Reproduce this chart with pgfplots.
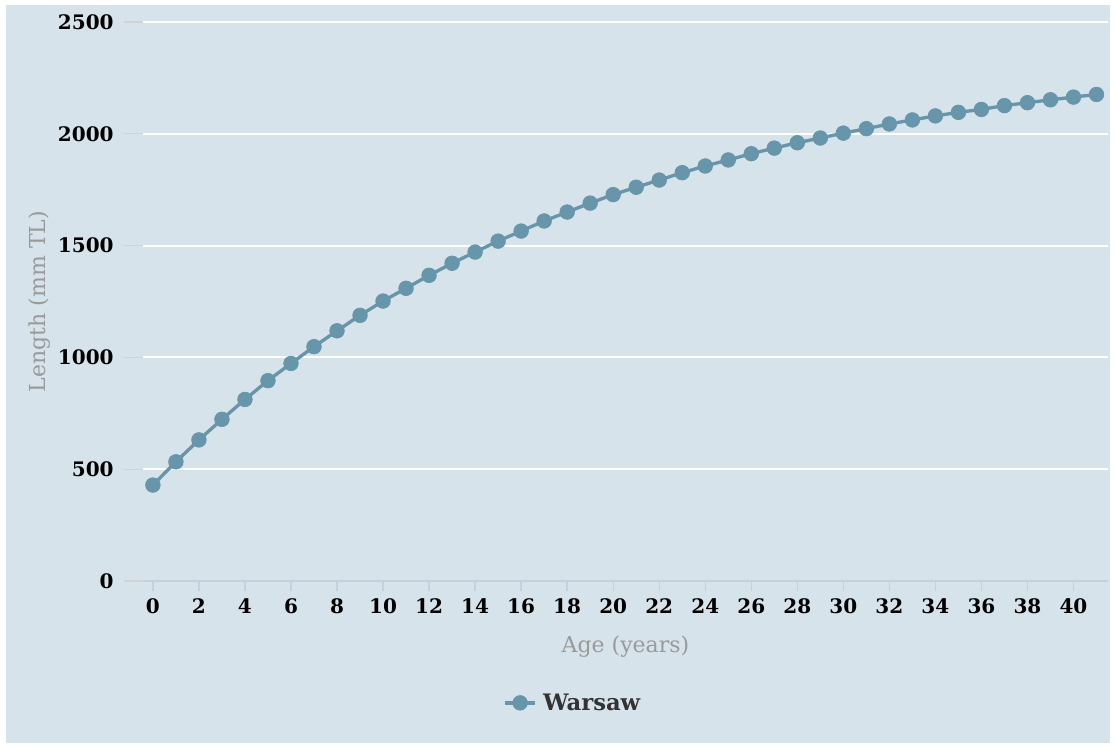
\documentclass[border=0pt]{standalone}
\usepackage{pgfplots}
\pgfplotsset{compat=1.18}
\usepackage{fontspec}
\setmainfont{DejaVu Serif}
\definecolor{bg}{HTML}{D6E3EA}
\definecolor{ser}{HTML}{6795A9}
\definecolor{xax}{HTML}{C2D0E0}
\definecolor{ytk}{HTML}{D0D2D4}
\definecolor{lab}{HTML}{9A9A9A}
\definecolor{leg}{HTML}{333333}
\pgfplotsset{
  base/.style={
    at={(107.25pt,125.25pt)}, anchor=south west,
    scale only axis, width=723.75pt, height=419.25pt,
    xmin=-0.43, xmax=41.5, ymin=0, ymax=2500,
    tick align=outside,
    /pgf/number format/1000 sep={},
    /pgf/number format/assume math mode=true,
    tick label style={font=\bfseries\fontsize{15}{17}\selectfont, text=black},
    label style={font=\fontsize{16.5}{18}\selectfont, text=lab},
    clip=false,
  }
}
\begin{document}
\begin{tikzpicture}
\fill[white] (0pt,0pt) rectangle (836.25pt,561pt);
\useasboundingbox (0pt,0pt) rectangle (836.25pt,561pt);
\fill[bg] (4.5pt,3.75pt) rectangle (832.5pt,557.25pt);
% y axis: grid, ticks, labels
\begin{axis}[base,
  axis x line=none, axis y line*=left,
  y axis line style={draw=none},
  xtick=\empty, ytick={0,500,...,2500},
  major tick length=14.5pt,
  y tick style={draw=ytk, line width=1pt},
  ymajorgrids, major grid style={draw=white, line width=1.5pt},
  yticklabel style={xshift=-4pt},
  ylabel={Length (mm TL)},
  ylabel style={yshift=-1pt},
]
\addplot[draw=none] coordinates {(0,0)};
\end{axis}
% x axis and series
\begin{axis}[base,
  axis x line*=bottom, axis y line=none,
  x axis line style={draw=xax, line width=1pt, -},
  xtick={0,2,...,40}, ytick=\empty,
  major tick length=7.5pt,
  x tick style={draw=xax, line width=1pt},
  xticklabel style={yshift=-2pt},
  xlabel={Age (years)},
  xlabel style={yshift=-9.5pt},
  legend style={at={(rel axis cs:0.448,-0.218)}, anchor=center, draw=none, fill=none,
    font=\bfseries\fontsize{17}{19}\selectfont, text=leg,
    nodes={inner xsep=5pt}},
  legend image code/.code={\draw[mark repeat=2, mark phase=2, #1] plot coordinates {(0pt,0pt) (11pt,0pt) (22pt,0pt)};},
]
\addplot[color=ser, line width=2.5pt, mark=*, mark size=5.5pt, mark options={fill=ser, draw=ser, line width=0.5pt}] coordinates {
(0,429) (1,533) (2,631) (3,723) (4,812) (5,896) (6,973) (7,1048) (8,1119) (9,1188)
(10,1252) (11,1309) (12,1367) (13,1421) (14,1471) (15,1520) (16,1565) (17,1610) (18,1650) (19,1690)
(20,1728) (21,1761) (22,1793) (23,1826) (24,1856) (25,1883) (26,1911) (27,1936) (28,1960) (29,1981)
(30,2003) (31,2023) (32,2044) (33,2062) (34,2080) (35,2096) (36,2109) (37,2126) (38,2139) (39,2152)
(40,2164) (41,2176)
};
\addlegendentry{Warsaw}
\end{axis}
\end{tikzpicture}
\end{document}
